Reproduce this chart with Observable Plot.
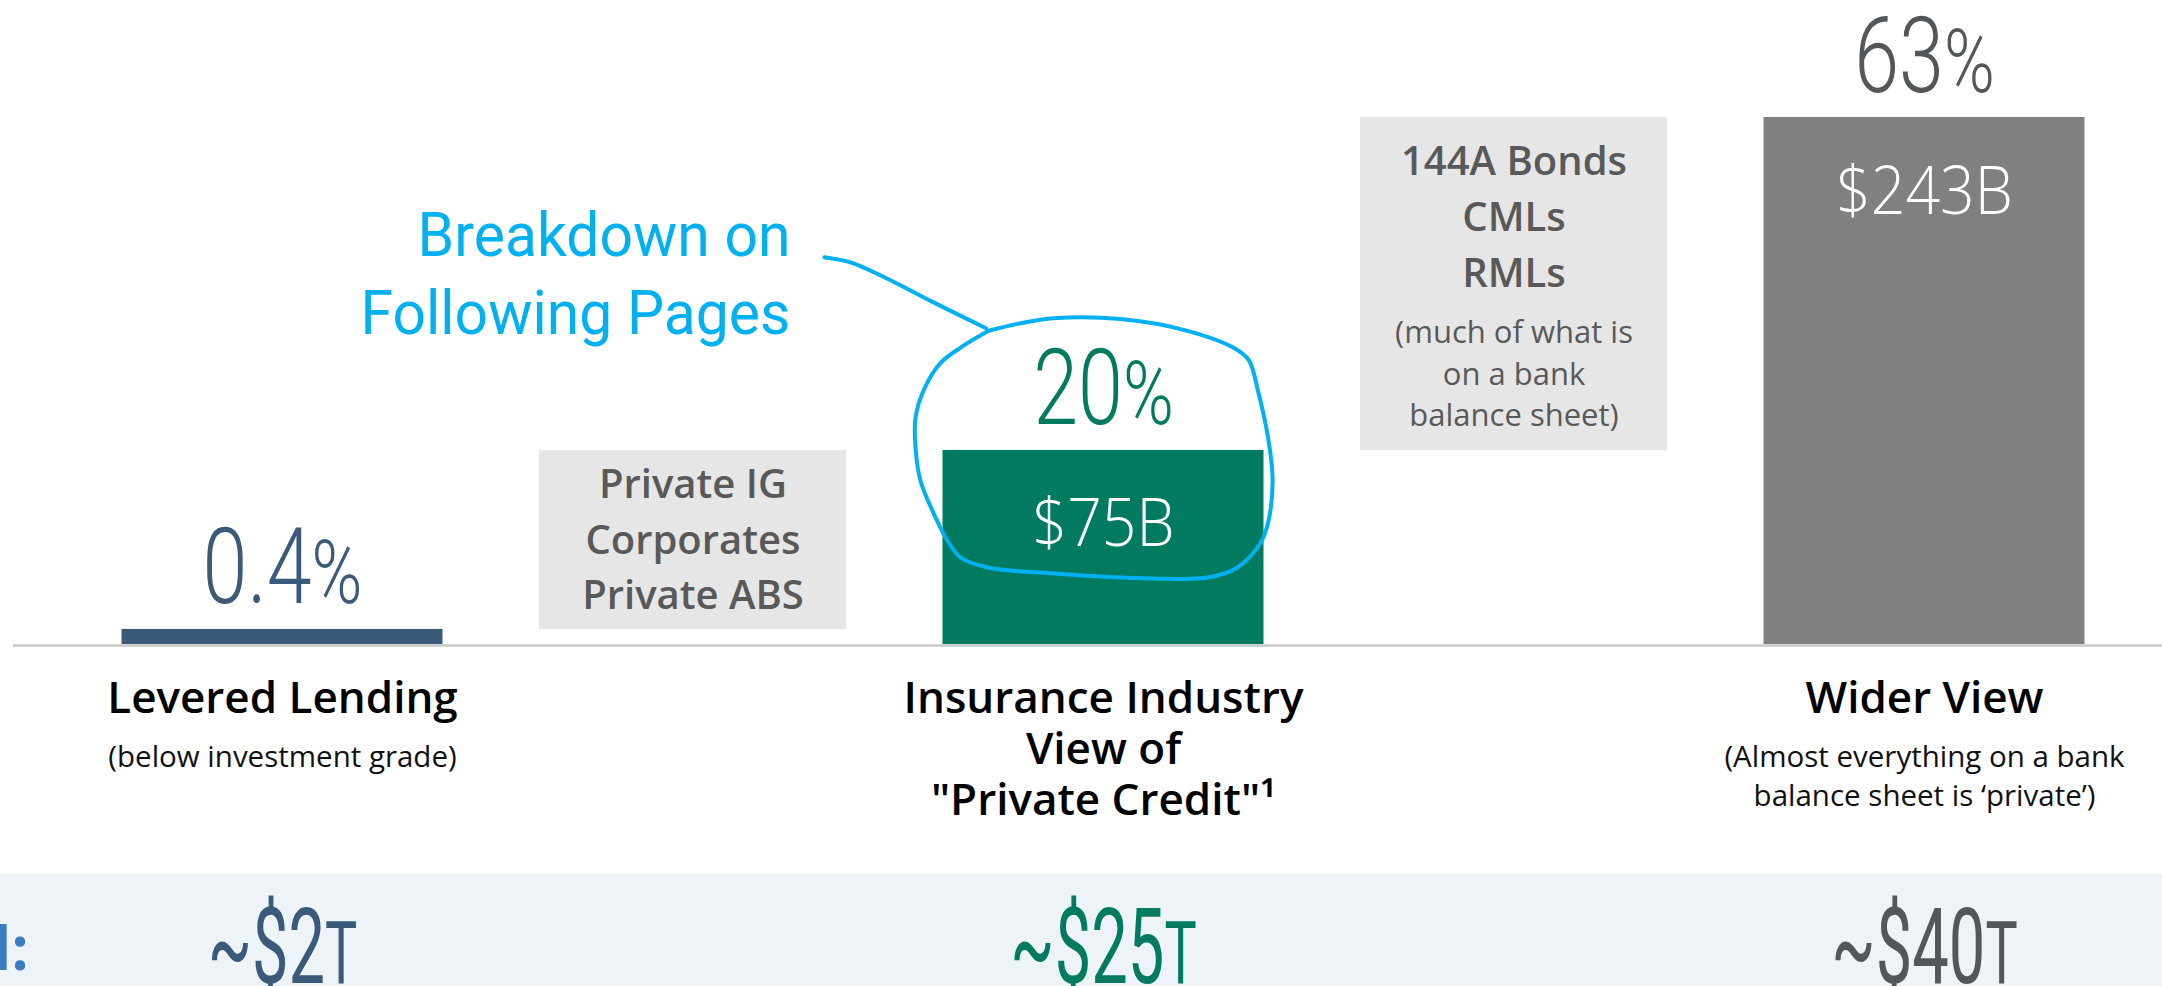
<!DOCTYPE html>
<html>
<head>
<meta charset="utf-8">
<script src="https://cdn.jsdelivr.net/npm/d3@7"></script>
<script src="https://cdn.jsdelivr.net/npm/@observablehq/plot@0.6"></script>
<style>
  html, body { margin: 0; padding: 0; background: #fff; overflow: hidden; }
  #chart svg { display: block; }
</style>
</head>
<body>
<div id="chart"></div>
<script>
// ---------------- data ----------------
const categories = ["Levered Lending", "Insurance Industry\nView of\n\"Private Credit\"¹", "Wider View"];
const subtitles = ["(below investment grade)", "", "(Almost everything on a bank\nbalance sheet is ‘private’)"];
const shareLabels = ["0.4%", "20%", "63%"];
const amountLabels = ["", "$75B", "$243B"];
const barHeights = [1.8, 23.2, 63];          // visual bar heights (63 = tallest bar)
const totalLabels = ["~$2T", "~$25T", "~$40T"];
const bridgeLabels = ["Private IG\nCorporates\nPrivate ABS", "144A Bonds\nCMLs\nRMLs"];
const bridgeNotes = ["", "(much of what is\non a bank\nbalance sheet)"];
const totalRowLabel = "Total:";
const calloutText = "Breakdown on\nFollowing Pages";

// ---------------- styles ----------------
const barColors = ["#3b5a7a", "#007b5f", "#808080"];
const labelColors = ["#3b5a7a", "#007b5f", "#53575a"];
const boxFill = "#e6e6e6", boxText = "#595959", cyan = "#00b0f0";

// ---------------- layout ----------------
const W = 2162, H = 986;
const FIRST_PX = 282, STEP_PX = 821, BASE_PX = 644, UNIT_PX = 527 / 63;
const pxToX = (px) => (px - FIRST_PX) / STEP_PX;
const pxToY = (py) => (BASE_PX - py) / UNIT_PX;
const xDomain = [pxToX(0), pxToX(W)];
const yDomain = [pxToY(H), pxToY(0)];
const BAR_HALF = 0.1955, BOX_HALF = 0.187;

// freehand callout (annotation): offsets from category 1, value units
const loopShape = [[-0.140,37.5],[-0.101,38.4],[-0.061,39.0],[0.021,38.9],[0.102,37.5],[0.158,35.5],[0.177,34.0],[0.188,30.4],[0.201,24.4],[0.206,19.6],[0.201,14.8],[0.191,12.1],[0.163,9.2],[0.127,8.0],[0.061,7.9],[-0.061,8.5],[-0.141,9.2],[-0.174,10.4],[-0.190,12.4],[-0.207,15.7],[-0.223,19.6],[-0.229,23.6],[-0.229,27.1],[-0.219,30.4],[-0.199,33.6],[-0.174,35.5],[-0.140,37.5]];
const leaderShape = [[-0.340,46.3],[-0.309,45.7],[-0.267,43.9],[-0.207,40.9],[-0.143,37.8]];

// ---------------- tables ----------------
const bars = categories.map((category, i) => ({
  i, category, subtitle: subtitles[i], share: shareLabels[i],
  amount: amountLabels[i], height: barHeights[i], total: totalLabels[i]
}));
const bridges = bridgeLabels.map((label, i) => ({
  pos: i + 0.5, from: barHeights[i], to: barHeights[i + 1], label, note: bridgeNotes[i]
}));

const chart = Plot.plot({
  width: W, height: H,
  margin: 0,
  x: {domain: xDomain, axis: null},
  y: {domain: yDomain, axis: null},
  color: {type: "identity"},
  style: {fontFamily: "'Open Sans', sans-serif", background: "white", overflow: "visible"},
  marks: [
    // totals band
    Plot.rect([0], {x1: () => xDomain[0], x2: () => xDomain[1], y1: () => yDomain[0], y2: () => pxToY(874), fill: "#eef3f8"}),
    // baseline
    Plot.ruleY([0], {x1: () => pxToX(13), x2: () => xDomain[1], stroke: "#c8c8c8", strokeWidth: 2.5, dy: 1}),
    // bridge boxes
    Plot.rect(bridges, {x1: d => d.pos - BOX_HALF, x2: d => d.pos + BOX_HALF, y1: "from", y2: "to", fill: boxFill}),
    // bars
    Plot.rect(bars, {x1: d => d.i - BAR_HALF, x2: d => d.i + BAR_HALF, y1: () => 0, y2: "height", fill: d => barColors[d.i]}),
    // share labels above bars
    Plot.text(bars, {x: "i", y: "height", text: "share", fill: d => labelColors[d.i], fontSize: 105,
      fontFamily: "Roboto", fontWeight: 300, lineAnchor: "bottom", dy: -26, ariaLabel: () => "share-label"}),
    // amounts inside bars
    Plot.text(bars.filter(d => d.amount), {x: "i", y: "height", text: "amount", fill: "white", fontSize: 66,
      fontWeight: 300, lineAnchor: "bottom", dy: 96, ariaLabel: () => "amount-label"}),
    // category titles
    Plot.text(bars, {x: "i", y: () => 0, text: "category", fill: "#000", fontSize: 44, fontWeight: 600,
      lineAnchor: "top", lineHeight: 1.165, dy: 32}),
    Plot.text(bars.filter(d => d.subtitle), {x: "i", y: () => 0, text: "subtitle", fill: "#111", fontSize: 29.5,
      lineAnchor: "top", lineHeight: 1.32, dy: 95}),
    // bridge box texts
    Plot.text([bridges[0]], {x: "pos", y: "from", text: "label", fill: boxText, fontSize: 40, fontWeight: 600,
      lineAnchor: "bottom", lineHeight: 1.39, dy: -20}),
    Plot.text([bridges[1]], {x: "pos", y: "from", text: "label", fill: boxText, fontSize: 40, fontWeight: 600,
      lineAnchor: "bottom", lineHeight: 1.41, dy: -163}),
    Plot.text(bridges.filter(d => d.note), {x: "pos", y: "from", text: "note", fill: boxText, fontSize: 31,
      lineAnchor: "bottom", lineHeight: 1.34, dy: -24}),
    // totals row
    Plot.text(bars, {x: "i", y: () => 0, text: "total", fill: d => labelColors[d.i], fontSize: 105,
      fontFamily: "Roboto", fontWeight: 400, lineAnchor: "bottom", dy: 338, ariaLabel: () => "total-label"}),
    Plot.text([totalRowLabel], {x: () => pxToX(28), y: () => 0, text: d => d, textAnchor: "end", fill: "#3b7cc0",
      fontSize: 60, fontWeight: 700, lineAnchor: "bottom", dy: 325}),
    // callout
    Plot.text([calloutText], {x: () => pxToX(790), y: () => pxToY(333), text: d => d, textAnchor: "end",
      lineAnchor: "bottom", lineHeight: 1.258, fontSize: 62, fontFamily: "Roboto", fill: cyan, ariaLabel: () => "callout-text"}),
    Plot.line(leaderShape, {x: d => 1 + d[0], y: d => d[1], stroke: cyan, strokeWidth: 4, curve: "catmull-rom", strokeLinecap: "round"}),
    Plot.line(loopShape, {x: d => 1 + d[0], y: d => d[1], stroke: cyan, strokeWidth: 4, curve: "catmull-rom", strokeLinejoin: "round"})
  ]
});

// condensed display type + smaller trailing glyphs (%, T)
function condense(svg, label, sx, tailSize) {
  svg.querySelectorAll(`text[aria-label="${label}"]`).forEach(t => {
    const tr = t.getAttribute("transform") || "";
    t.setAttribute("transform", tr + ` scale(${sx},1)`);
    if (tailSize) {
      const s = t.textContent;
      t.textContent = s.slice(0, -1);
      const ts = document.createElementNS("http://www.w3.org/2000/svg", "tspan");
      ts.setAttribute("font-size", tailSize);
      ts.textContent = s.slice(-1);
      t.appendChild(ts);
    }
  });
}
condense(chart, "share-label", 0.77, "0.85em");
condense(chart, "total-label", 0.62, "0.83em");
condense(chart, "amount-label", 0.92, null);
condense(chart, "callout-text", 0.95, null);

document.getElementById("chart").appendChild(chart);
</script>
</body>
</html>
